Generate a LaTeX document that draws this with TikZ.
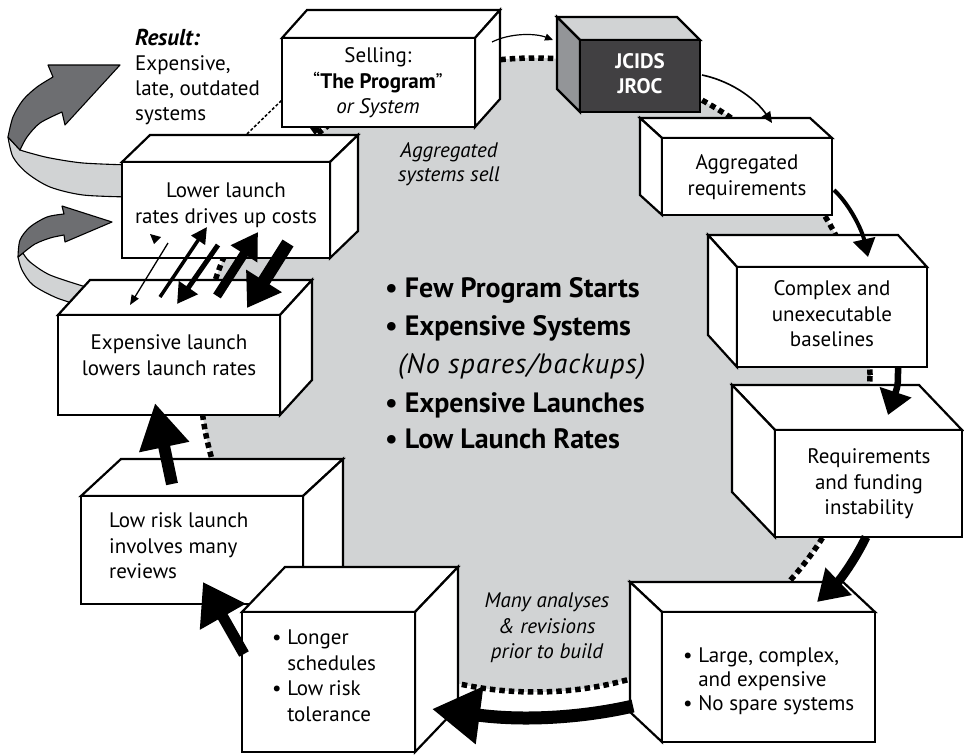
\documentclass[tikz,border=0pt]{standalone}
\usepackage{fontspec}
\setmainfont{PT Sans}
\usetikzlibrary{arrows.meta}
\definecolor{ringgray}{HTML}{D1D3D4}
\definecolor{ribdark}{HTML}{6D6E71}
\definecolor{jfront}{HTML}{414042}
\definecolor{jside}{HTML}{939598}
% #1 name, #2 x1, #3 y1, #4 x2, #5 y2, #6 dx, #7 dy, #8 x of side face
\newcommand\cube[8]{%
  \path[boxline,topf] (#2,#3) -- ({#2+(#6)},{#3+(#7)}) -- ({#4+(#6)},{#3+(#7)}) -- (#4,#3) -- cycle;
  \path[boxline,sidef] (#8,#3) -- ({#8+(#6)},{#3+(#7)}) -- ({#8+(#6)},{#5+(#7)}) -- (#8,#5) -- cycle;
  \node[boxline,frontf,anchor=north west,inner sep=0pt,outer sep=0pt,
        minimum width={#4pt-#2pt},minimum height={#5pt-#3pt}] (#1) at (#2,#3) {};
}
\begin{document}
\begin{tikzpicture}[x=1pt,y=-1pt,
  boxline/.style={draw=black,line width=2.2pt,line join=miter},
  topf/.style={fill=white}, sidef/.style={fill=white}, frontf/.style={fill=white},
  txt/.style={font=\fontsize{21}{25.5}\selectfont,align=center,inner sep=0pt},
  itx/.style={font=\itshape\fontsize{21}{25.5}\selectfont,align=center,inner sep=0pt},
  ctr/.style={font=\bfseries\fontsize{28}{30}\selectfont,inner sep=0pt},
  ribbon/.style={draw=black,line width=1.1pt,line join=round}]
\useasboundingbox (0,0) rectangle (964,755);

% ring
\filldraw[fill=ringgray,draw=black,line width=5.5pt,dash pattern=on 5.5pt off 4pt]
  (535,375) ellipse [x radius=335pt, y radius=317pt];

% ribbon arrows (left)
\filldraw[ribbon,fill=ringgray] plot[smooth] coordinates {(130,165) (83,163) (50,158) (30,153) (20,150)}
  -- plot[smooth] coordinates {(8,137) (13,157) (27,173) (50,187) (83,195) (130,197)} -- cycle;
\filldraw[ribbon,fill=ribdark] plot[smooth] coordinates {(8,137) (13,117) (23,100) (37,87) (53,77)}
  -- (48,65) -- (120,65) -- (65,125)
  -- plot[smooth] coordinates {(62,112) (40,123) (27,137) (20,150)} -- cycle;
\filldraw[ribbon,fill=ringgray] plot[smooth] coordinates {(86,287) (50,275) (30,262) (23,253)}
  -- plot[smooth] coordinates {(18,257) (22,270) (33,285) (57,298) (86,307)} -- cycle;
\filldraw[ribbon,fill=ribdark] plot[smooth] coordinates {(18,257) (20,240) (30,227) (47,217) (64,214)}
  -- (62,206) -- (112,222) -- (65,242)
  -- plot[smooth] coordinates {(64,235) (50,238) (35,244) (23,253)} -- cycle;

% boxes
\cube{sell}{282}{38}{475}{127}{25}{-28}{475}
\begin{scope}[topf/.style={fill=ringgray},sidef/.style={fill=jside},frontf/.style={fill=jfront}]
\cube{jcids}{580}{40}{700}{112}{-23}{-23}{580}
\end{scope}
\cube{agg}{662}{138}{832}{215}{-22}{-20}{662}
\cube{cplx}{737}{267}{927}{367}{-29}{-32}{737}
\cube{reqf}{775}{430}{962}{537}{-43}{-45}{775}
\cube{large}{662}{612}{875}{742}{-32}{-30}{662}
\cube{lower}{122}{162}{330}{258}{28}{-27}{330}
\cube{explaunch}{58}{315}{280}{415}{32}{-35}{280}
\cube{lowrisk}{81}{496}{303}{604}{40}{-37}{303}
\cube{longer}{242}{612}{415}{752}{43}{-45}{415}

% texts
\node[txt] (sellt) at (378,83) {Selling:\\“\textbf{The Program}”\\\textit{or System}};
\node[txt,text=white,font=\bfseries\fontsize{21}{25}\selectfont] (jcidst) at (640,74) {JCIDS\\JROC};
\node[txt] (aggt) at (747,177) {Aggregated\\requirements};
\node[txt] (cplxt) at (832,314) {Complex and\\unexecutable\\baselines};
\node[txt] (reqt) at (869,484) {Requirements\\and funding\\instability};
\node[txt,align=left,anchor=west,font=\fontsize{21}{24}\selectfont] (larget) at (683,681)
  {• Large, complex,\\\phantom{• }and expensive\\• No spare systems};
\node[txt,align=left,anchor=west] (longt) at (272,676)
  {• Longer\\\phantom{• }schedules\\• Low risk\\\phantom{• }tolerance};
\node[txt,align=left,anchor=west] (lowt) at (109,546) {Low risk launch\\involves many\\reviews};
\node[txt] (expt) at (169,355) {Expensive launch\\lowers launch rates};
\node[txt] (lowert) at (226,205) {Lower launch\\rates drives up costs};
\node[txt,align=left,anchor=west,font=\fontsize{21}{25}\selectfont] (rest) at (135,77)
  {{\fontsize{23}{25}\selectfont\textbf{\textit{Result:}}}\\Expensive,\\late, outdated\\systems};
\node[itx,font=\itshape\fontsize{21}{24}\selectfont] (aggsell) at (449,164) {Aggregated\\systems sell};
\node[itx] (many) at (547,628) {Many analyses\\\& revisions\\prior to build};

\node[ctr,anchor=base west] (c1) at (385,297) {• Few Program Starts};
\node[ctr,anchor=base west] (c2) at (385,335) {• Expensive Systems};
\node[inner sep=0pt,anchor=base west,font=\itshape\fontsize{28}{30}\selectfont\addfontfeature{LetterSpace=4}] (c3) at (398,373) {(No spares/backups)};
\node[ctr,anchor=base west] (c4) at (385,412) {• Expensive Launches};
\node[ctr,anchor=base west] (c5) at (385,448) {• Low Launch Rates};

% connector end points
\coordinate (a1s) at (492,42);  \coordinate (a1e) at (553,40);
\coordinate (a2s) at (702,75);  \coordinate (a2e) at (772,123);
\coordinate (a3s) at (834,190); \coordinate (a3e) at (868,257);
\coordinate (a4s) at (898,367); \coordinate (a4e) at (888,415);
\coordinate (a5s) at (866,537); \coordinate (a5e) at (817,602);
\coordinate (a6s) at (633,706); \coordinate (a6e) at (432,709);
\coordinate (a7s) at (244,654); \coordinate (a7e) at (203,582);
\coordinate (a8s) at (172,484); \coordinate (a8e) at (155,403);
\coordinate (b1s) at (168,243); \coordinate (b1e) at (130,305);
\coordinate (b2s) at (160,297); \coordinate (b2e) at (207,227);
\coordinate (b3s) at (218,245); \coordinate (b3e) at (177,304);
\coordinate (b4s) at (217,296); \coordinate (b4e) at (258,232);
\coordinate (b5s) at (288,243); \coordinate (b5e) at (247,308);
\coordinate (d1s) at (247,134); \coordinate (d1e) at (282,100);

% ring arrows
\draw[line width=1.2pt,-{Triangle[length=8pt,width=7pt]}] (a1s) .. controls (510,33) and (535,33) .. (a1e);
\draw[line width=1.6pt,-{Triangle[length=11pt,width=10pt]}] (a2s) .. controls (735,82) and (758,102) .. (a2e);
\draw[line width=4pt,-{Triangle[length=18pt,width=22pt]}] (a3s) .. controls (850,205) and (862,230) .. (a3e);
\draw[line width=6.5pt,-{Triangle[length=24pt,width=32pt]}] (a4s) .. controls (898,385) .. (a4e);
\draw[line width=9pt,-{Triangle[length=30pt,width=36pt]}] (a5s) .. controls (855,560) and (840,580) .. (a5e);
\draw[line width=13pt,-{Triangle[length=48pt,width=55pt]}] (a6s) .. controls (590,716) and (530,722) .. (a6e);
\draw[line width=11pt,-{Triangle[length=40pt,width=50pt]}] (a7s) -- (a7e);
\draw[line width=12pt,-{Triangle[length=45pt,width=48pt]}] (a8s) -- (a8e);

% interplay arrows
\draw[line width=1.3pt,-{Triangle[length=10pt,width=8pt]}] (b1s) -- (b1e);
\fill (150,234) -- (161,237) -- (154,244) -- cycle;
\draw[line width=3.5pt,-{Triangle[length=16pt,width=16pt]}] (b2s) -- (b2e);
\draw[line width=5pt,-{Triangle[length=20pt,width=22pt]}] (b3s) -- (b3e);
\draw[line width=9pt,-{Triangle[length=26pt,width=30pt]}] (b4s) -- (b4e);
\draw[line width=13pt,-{Triangle[length=32pt,width=40pt]}] (b5s) -- (b5e);

% thin dashed link and small tip
\draw[line width=1.5pt,dash pattern=on 3pt off 2pt] (d1s) -- (d1e);
\fill (310,128) -- (320,128) -- (315,135) -- cycle;
\end{tikzpicture}
\end{document}
